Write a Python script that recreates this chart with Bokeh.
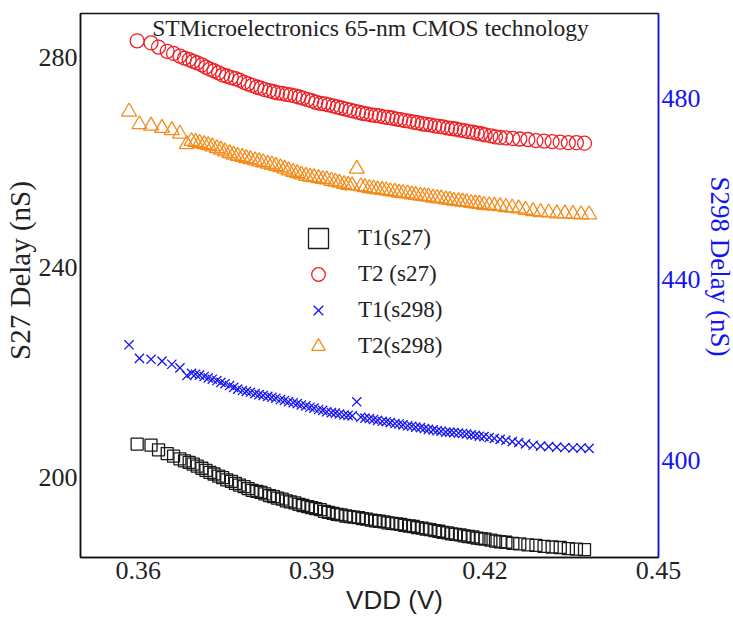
import math
from bokeh.plotting import figure
from bokeh.models import Range1d, LinearAxis, FixedTicker, Label, Legend, LegendItem
from bokeh.embed import file_html
from bokeh.resources import INLINE

# Supply-voltage sweep for the s27 benchmark (V)
vdd_s27 = [
    0.3598, 0.3622, 0.3635, 0.3650, 0.3661, 0.3672, 0.3680,
    0.3688, 0.3695, 0.3702, 0.3710, 0.3717, 0.3724, 0.3731, 0.3739, 0.3746, 0.3753,
    0.3761, 0.3768, 0.3775, 0.3783, 0.3790, 0.3797, 0.3805, 0.3812, 0.3819, 0.3827,
    0.3834, 0.3841, 0.3849, 0.3856, 0.3863, 0.3871, 0.3878, 0.3885, 0.3893, 0.3900,
    0.3907, 0.3915, 0.3922, 0.3929, 0.3937, 0.3944, 0.3951, 0.3959, 0.3966, 0.3973,
    0.3981, 0.3988, 0.3995, 0.4003, 0.4010, 0.4017, 0.4025, 0.4032, 0.4039, 0.4047,
    0.4054, 0.4061, 0.4069, 0.4076, 0.4083, 0.4091, 0.4098, 0.4105, 0.4113, 0.4120,
    0.4127, 0.4135, 0.4142, 0.4149, 0.4157, 0.4164, 0.4171, 0.4179, 0.4186, 0.4193,
    0.4200, 0.4210, 0.4218, 0.4226, 0.4236, 0.4248, 0.4260, 0.4274, 0.4288, 0.4302,
    0.4316, 0.4330, 0.4344, 0.4358, 0.4372,
]
# s27 delay, technique T1 (ns)
t1_s27 = [
    206.4, 206.2, 205.3, 204.6, 204.1, 203.6, 203.2,
    202.9, 202.6, 202.2, 201.8, 201.4, 201.0, 200.7, 200.3, 200.0, 199.6,
    199.3, 198.9, 198.6, 198.3, 197.9, 197.6, 197.4, 197.2, 196.9, 196.6,
    196.4, 196.1, 195.9, 195.6, 195.4, 195.2, 194.9, 194.7, 194.5, 194.3,
    194.1, 193.9, 193.6, 193.4, 193.2, 193.0, 192.9, 192.7, 192.6, 192.5,
    192.4, 192.2, 192.1, 191.9, 191.8, 191.7, 191.6, 191.4, 191.3, 191.2,
    191.1, 190.9, 190.8, 190.7, 190.5, 190.4, 190.2, 190.1, 189.9, 189.8,
    189.6, 189.5, 189.3, 189.2, 189.1, 188.9, 188.8, 188.7, 188.5, 188.4,
    188.3, 188.1, 187.9, 187.8, 187.7, 187.5, 187.4, 187.2, 187.1, 186.9,
    186.8, 186.7, 186.5, 186.4, 186.3,
]
# s27 delay, technique T2 (ns)
t2_s27 = [
    283.2, 282.8, 282.0, 281.2, 280.8, 280.3, 279.9,
    279.6, 279.3, 279.0, 278.6, 278.2, 277.8, 277.5, 277.1, 276.7, 276.5,
    276.2, 276.0, 275.7, 275.3, 275.0, 274.7, 274.4, 274.2, 273.9, 273.7,
    273.5, 273.3, 273.2, 273.0, 272.9, 272.7, 272.5, 272.3, 272.0, 271.8,
    271.5, 271.3, 271.2, 271.0, 270.8, 270.6, 270.4, 270.2, 270.0, 269.8,
    269.6, 269.4, 269.3, 269.1, 269.0, 268.9, 268.7, 268.6, 268.5, 268.3,
    268.2, 268.0, 267.9, 267.7, 267.6, 267.4, 267.3, 267.2, 267.0, 266.9,
    266.8, 266.6, 266.5, 266.4, 266.2, 266.1, 265.9, 265.8, 265.6, 265.5,
    265.3, 265.1, 264.9, 264.8, 264.7, 264.6, 264.5, 264.4, 264.2, 264.1,
    264.0, 263.9, 263.8, 263.8, 263.7,
]

# Supply-voltage sweep for the s298 benchmark (V)
vdd_s298 = [
    0.3584, 0.3602, 0.3622, 0.3641, 0.3658, 0.3672, 0.3684,
    0.3692, 0.3699, 0.3706, 0.3714, 0.3721, 0.3728, 0.3736, 0.3743, 0.3750, 0.3758,
    0.3765, 0.3772, 0.3780, 0.3787, 0.3794, 0.3802, 0.3809, 0.3816, 0.3824, 0.3831,
    0.3838, 0.3846, 0.3853, 0.3860, 0.3868, 0.3875, 0.3882, 0.3890, 0.3897, 0.3904,
    0.3912, 0.3919, 0.3926, 0.3934, 0.3941, 0.3948, 0.3956, 0.3963, 0.3970, 0.3978,
    0.3985, 0.3992, 0.4000, 0.4007, 0.4014, 0.4022, 0.4029, 0.4036, 0.4044, 0.4051,
    0.4058, 0.4066, 0.4073, 0.4080, 0.4088, 0.4095, 0.4102, 0.4110, 0.4117, 0.4124,
    0.4132, 0.4139, 0.4146, 0.4154, 0.4161, 0.4168, 0.4176, 0.4183, 0.4190,
    0.4198, 0.4207, 0.4216, 0.4226, 0.4236, 0.4247, 0.4258, 0.4270, 0.4283, 0.4296,
    0.4310, 0.4324, 0.4338, 0.4352, 0.4366, 0.4380,
]
# s298 delay, technique T1 (ns)
t1_s298 = [
    425.6, 422.6, 422.4, 422.0, 421.3, 420.5, 418.8,
    419.3, 419.1, 418.9, 418.6, 418.3, 418.0, 417.7, 417.3, 417.0, 416.6,
    416.2, 415.8, 415.5, 415.3, 415.1, 414.8, 414.6, 414.4, 414.2, 414.0,
    413.8, 413.5, 413.3, 413.0, 412.8, 412.6, 412.3, 412.1, 411.8, 411.6,
    411.3, 411.1, 410.8, 410.6, 410.5, 410.3, 410.1, 410.0, 409.9, 413.0,
    409.6, 409.4, 409.3, 409.1, 408.9, 408.7, 408.6, 408.4, 408.2, 408.1,
    407.9, 407.7, 407.6, 407.4, 407.3, 407.1, 406.9, 406.8, 406.6, 406.5,
    406.3, 406.3, 406.2, 406.1, 406.0, 405.9, 405.7, 405.6, 405.4,
    405.3, 405.1, 404.9, 404.7, 404.5, 404.2, 404.0, 403.7, 403.4, 403.2,
    403.1, 403.0, 402.9, 402.8, 402.8, 402.7,
]
# s298 delay, technique T2 (ns)
t2_s298 = [
    477.1, 474.3, 474.0, 473.5, 473.0, 472.2, 469.9,
    470.6, 470.4, 470.2, 469.9, 469.7, 469.4, 469.0, 468.7, 468.3, 467.9,
    467.6, 467.3, 467.1, 466.8, 466.6, 466.3, 466.1, 465.9, 465.6, 465.4,
    465.1, 464.8, 464.5, 464.1, 463.8, 463.5, 463.2, 462.9, 462.7, 462.6,
    462.4, 462.2, 462.1, 461.8, 461.6, 461.4, 461.1, 460.9, 460.8, 464.5,
    460.6, 460.4, 460.2, 460.1, 459.9, 459.8, 459.7, 459.5, 459.4, 459.2,
    459.1, 459.0, 458.8, 458.7, 458.5, 458.4, 458.3, 458.1, 458.0, 457.9,
    457.7, 457.6, 457.4, 457.3, 457.2, 457.1, 456.9, 456.8, 456.7,
    456.5, 456.4, 456.3, 456.2, 456.0, 455.9, 455.7, 455.4, 455.1, 454.9,
    454.8, 454.6, 454.6, 454.5, 454.4, 454.4,
]

assert len(vdd_s27) == len(t1_s27) == len(t2_s27)
assert len(vdd_s298) == len(t1_s298) == len(t2_s298)

x_ticks = [0.36, 0.39, 0.42, 0.45]
left_ticks = [200, 240, 280]
right_ticks = [400, 440, 480]

SERIF = '"Liberation Serif"'
SANS = '"Liberation Sans"'
TXT = "#222222"
RED = "#ee1f26"
ORANGE = "#f48c1c"
BLUE = "#1414f0"

p = figure(
    width=733, height=617, output_backend="svg", toolbar_location=None,
    x_range=Range1d(0.35, 0.45), y_range=Range1d(184.8, 288.4),
    min_border_left=80, min_border_right=73, min_border_top=13, min_border_bottom=60,
)
p.extra_y_ranges = {"s298": Range1d(378.6, 498.8)}
p.grid.visible = False
p.outline_line_color = "#111111"
p.outline_line_width = 1.5
p.background_fill_color = "white"
p.border_fill_color = "white"

# bottom axis; its title sits in the panel below it
xa = p.xaxis[0]
xa.ticker = FixedTicker(ticks=x_ticks)
xa.major_label_text_font = SERIF
xa.major_label_text_font_size = "26px"
xa.major_label_text_color = TXT
xa.major_label_standoff = 4

# left axis (s27); its title sits in the left-hand panel
ya = p.yaxis[0]
ya.ticker = FixedTicker(ticks=left_ticks)
ya.major_label_text_font = SERIF
ya.major_label_text_font_size = "26px"
ya.major_label_text_color = TXT
ya.major_label_standoff = 3

for ax in (xa, ya):
    ax.axis_line_color = "#111111"
    ax.axis_line_width = 1.5
    ax.major_tick_in = 0
    ax.major_tick_out = 0
    ax.minor_tick_in = 0
    ax.minor_tick_out = 0

bottom_title = Label(
    x=314, y=12, x_units="screen", y_units="screen",
    text="VDD (V)", text_font=SANS, text_font_size="26px",
    text_color=TXT, text_align="center", text_baseline="middle", text_line_height=0.9,
)
p.add_layout(bottom_title, "below")

left_title = Label(
    x=16, y=287, x_units="screen", y_units="screen", angle=math.pi / 2,
    text="S27 Delay (nS)", text_font=SERIF, text_font_size="29px",
    text_color=TXT, text_align="center", text_baseline="middle", text_line_height=1.0,
)
p.add_layout(left_title, "left")

# right axis (s298); its title sits in the right-hand panel next to it
ra = LinearAxis(y_range_name="s298", ticker=FixedTicker(ticks=right_ticks))
ra.major_label_text_font = SERIF
ra.major_label_text_font_size = "26px"
ra.major_label_text_color = BLUE
ra.major_label_standoff = 3
ra.axis_line_color = BLUE
ra.axis_line_width = 1.5
ra.major_tick_in = 0
ra.major_tick_out = 0
ra.minor_tick_in = 0
ra.minor_tick_out = 0
p.add_layout(ra, "right")

right_title = Label(
    x=16, y=291, x_units="screen", y_units="screen", angle=-math.pi / 2,
    text="S298 Delay (nS)", text_font=SERIF, text_font_size="27px",
    text_color=BLUE, text_align="center", text_baseline="middle", text_line_height=1.0,
)
p.add_layout(right_title, "right")

# data series (hollow markers)
r_t1_s27 = p.scatter(vdd_s27, t1_s27, marker="square", size=12, line_color="#1a1a1a",
                     line_width=1.3, fill_color=None)
r_t2_s27 = p.scatter(vdd_s27, t2_s27, marker="circle", size=14, line_color=RED,
                     line_width=1.3, fill_color=None)
r_t1_s298 = p.scatter(vdd_s298, t1_s298, marker="x", size=13, line_color=BLUE,
                      line_width=1.3, y_range_name="s298")
r_t2_s298 = p.scatter(vdd_s298, t2_s298, marker="triangle", size=15, line_color=ORANGE,
                      line_width=1.3, fill_color=None, y_range_name="s298")

# legend: the square entry is drawn larger than the others
leg_a = Legend(
    items=[LegendItem(label="T1(s27)", renderers=[r_t1_s27])],
    location=(213, 294), glyph_width=50, glyph_height=50, label_standoff=15,
)
leg_b = Legend(
    items=[
        LegendItem(label="T2 (s27)", renderers=[r_t2_s27]),
        LegendItem(label="T1(s298)", renderers=[r_t1_s298]),
        LegendItem(label="T2(s298)", renderers=[r_t2_s298]),
    ],
    location=(221, 194), glyph_width=34, glyph_height=34, label_standoff=23, spacing=2,
)
for leg in (leg_a, leg_b):
    leg.padding = 0
    leg.margin = 0
    leg.border_line_color = None
    leg.background_fill_alpha = 0
    leg.label_text_font = SERIF
    leg.label_text_font_size = "23px"
    leg.label_text_color = TXT
    leg.label_height = 20
    leg.click_policy = "none"
    p.add_layout(leg, "center")

title = Label(
    x=290, y=530, x_units="screen", y_units="screen",
    text="STMicroelectronics 65-nm CMOS technology",
    text_font=SERIF, text_font_size="23.5px", text_color=TXT,
    text_align="center", text_baseline="middle",
)
p.add_layout(title)

open("out.html", "w").write(file_html(p, INLINE))
